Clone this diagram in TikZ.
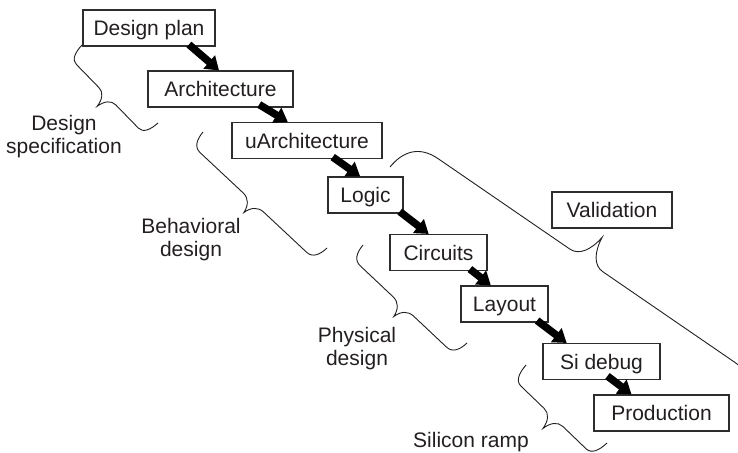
\documentclass[tikz,border=0pt]{standalone}
\usepackage{fontspec}
\setmainfont{Liberation Sans}
\usetikzlibrary{arrows.meta,calc,decorations.pathreplacing}

\definecolor{ink}{RGB}{35,31,32}
\definecolor{edge}{RGB}{45,45,45}

% A slim curly brace: short end hooks, long straight runs, sharp middle tip.
% amplitude = height of the tip, straight runs sit at 0.55 of it.
\def\sbhook{10pt}
\def\sbtip{13pt}
\pgfkeys{/pgf/decoration/.cd,
  brace hook/.code={\pgfmathsetlengthmacro\sbhook{#1}},
  brace tip/.code={\pgfmathsetlengthmacro\sbtip{#1}}}
\pgfdeclaredecoration{slimbrace}{brace}{%
  \state{brace}[width=+\pgfdecoratedremainingdistance,next state=final]{%
    \pgfmathsetlengthmacro\sbA{\pgfdecorationsegmentamplitude}%
    \pgfmathsetlengthmacro\sbH{0.55*\sbA}%
    \pgfmathsetlengthmacro\sbD{\pgfdecoratedremainingdistance}%
    \pgfmathsetlengthmacro\sbM{0.5*\sbD}%
    \pgfmathsetlengthmacro\sbK{\sbH+0.4*(\sbA-\sbH)}%
    \pgfpathmoveto{\pgfpointorigin}%
    \pgfpathcurveto{\pgfpoint{0.05*\sbhook}{0.6*\sbH}}{\pgfpoint{0.35*\sbhook}{\sbH}}{\pgfpoint{\sbhook}{\sbH}}%
    \pgfpathlineto{\pgfpoint{\sbM-\sbtip}{\sbH}}%
    \pgfpathcurveto{\pgfpoint{\sbM-0.45*\sbtip}{\sbH}}{\pgfpoint{\sbM-0.1*\sbtip}{\sbK}}{\pgfpoint{\sbM}{\sbA}}%
    \pgfpathcurveto{\pgfpoint{\sbM+0.1*\sbtip}{\sbK}}{\pgfpoint{\sbM+0.45*\sbtip}{\sbH}}{\pgfpoint{\sbM+\sbtip}{\sbH}}%
    \pgfpathlineto{\pgfpoint{\sbD-\sbhook}{\sbH}}%
    \pgfpathcurveto{\pgfpoint{\sbD-0.35*\sbhook}{\sbH}}{\pgfpoint{\sbD-0.05*\sbhook}{0.6*\sbH}}{\pgfpoint{\sbD}{0pt}}%
  }%
  \state{final}{}%
}

\newcommand\lab{\fontsize{21pt}{23pt}\selectfont}

\tikzset{
  stage/.style={draw=edge, line width=1.1pt, fill=white, minimum height=36pt,
    inner sep=0pt, text height=15pt, text depth=0pt, text=ink, font=\lab},
  flow/.style={draw=black, line width=7.5pt, -{Triangle[length=13pt,width=17pt]}},
  phase/.style={align=center, text=ink, font=\lab, inner sep=0pt},
  bracket/.style={draw=ink, line width=0.9pt, decorate, decoration={slimbrace,#1}},
}

\begin{document}
\begin{tikzpicture}[x=1pt,y=-1pt]
\useasboundingbox (0,0) rectangle (738,452);

% stages of the flow
\node[stage, minimum width=132pt] (plan)  at (149,28)    {Design plan};
\node[stage, minimum width=145pt] (arch)  at (220.5,89)  {Architecture};
\node[stage, minimum width=150pt] (uarch) at (307,140.5) {uArchitecture};
\node[stage, minimum width=75pt]  (logic) at (365.5,195) {Logic};
\node[stage, minimum width=97pt]  (circ)  at (438.5,252.5) {Circuits};
\node[stage, minimum width=87pt]  (lay)   at (504.5,304) {Layout};
\node[stage, minimum width=117pt] (si)    at (601.5,361.5) {Si debug};
\node[stage, minimum width=135pt] (prod)  at (661.5,413) {Production};
\node[stage, minimum width=120pt] (valid) at (612,210)   {Validation};

% arrows between stages
\draw[flow] ($(plan.south west)!0.80!(plan.south east)+(0,-2)$)   -- ($(arch.north west)!0.49!(arch.north east)$);
\draw[flow] ($(arch.south west)!0.765!(arch.south east)+(0,-3)$)  -- ($(uarch.north west)!0.373!(uarch.north east)$);
\draw[flow] ($(uarch.south west)!0.67!(uarch.south east)+(0,-2)$) -- ($(logic.north west)!0.43!(logic.north east)$);
\draw[flow] ($(logic.south west)!0.95!(logic.south east)+(0,-2)$) -- ($(circ.north west)!0.40!(circ.north east)$);
\draw[flow] ($(circ.south west)!0.82!(circ.south east)+(0,-2)$)   -- ($(lay.north west)!0.345!(lay.north east)$);
\draw[flow] ($(lay.south west)!0.87!(lay.south east)+(0,-2)$)     -- ($(si.north west)!0.205!(si.north east)$);
\draw[flow] ($(si.south west)!0.55!(si.south east)+(0,-4)$)       -- ($(prod.north west)!0.28!(prod.north east)$);

% phase braces and their labels
\coordinate (specA) at (82,45);   \coordinate (specB) at (158,123);
\coordinate (behA)  at (203,132); \coordinate (behB)  at (327,248);
\coordinate (phyA)  at (363,245); \coordinate (phyB)  at (467,343);
\coordinate (siA)   at (526,365); \coordinate (siB)   at (607,443);
\coordinate (valA)  at (390,167); \coordinate (valB)  at (744,410);

\draw[bracket={amplitude=32pt, brace hook=10pt, brace tip=12pt}] (specB) -- (specA);
\draw[bracket={amplitude=31pt, brace hook=12pt, brace tip=14pt}] (behB) -- (behA);
\draw[bracket={amplitude=31pt, brace hook=12pt, brace tip=14pt}] (phyB) -- (phyA);
\draw[bracket={amplitude=34pt, brace hook=11pt, brace tip=13pt}] (siB) -- (siA);
\draw[bracket={amplitude=62pt, brace hook=35pt, brace tip=20pt}] (valA) -- (valB);

% the base anchor of a two-line label is the baseline of its last line
\node[phase, anchor=base] (specl) at (64,153)  {Design\\specification};
\node[phase, anchor=base] (behl)  at (191,256) {Behavioral\\design};
\node[phase, anchor=base] (phyl)  at (357,365) {Physical\\design};
\node[phase, anchor=base] (sil)   at (471,447) {Silicon ramp};
\end{tikzpicture}
\end{document}
